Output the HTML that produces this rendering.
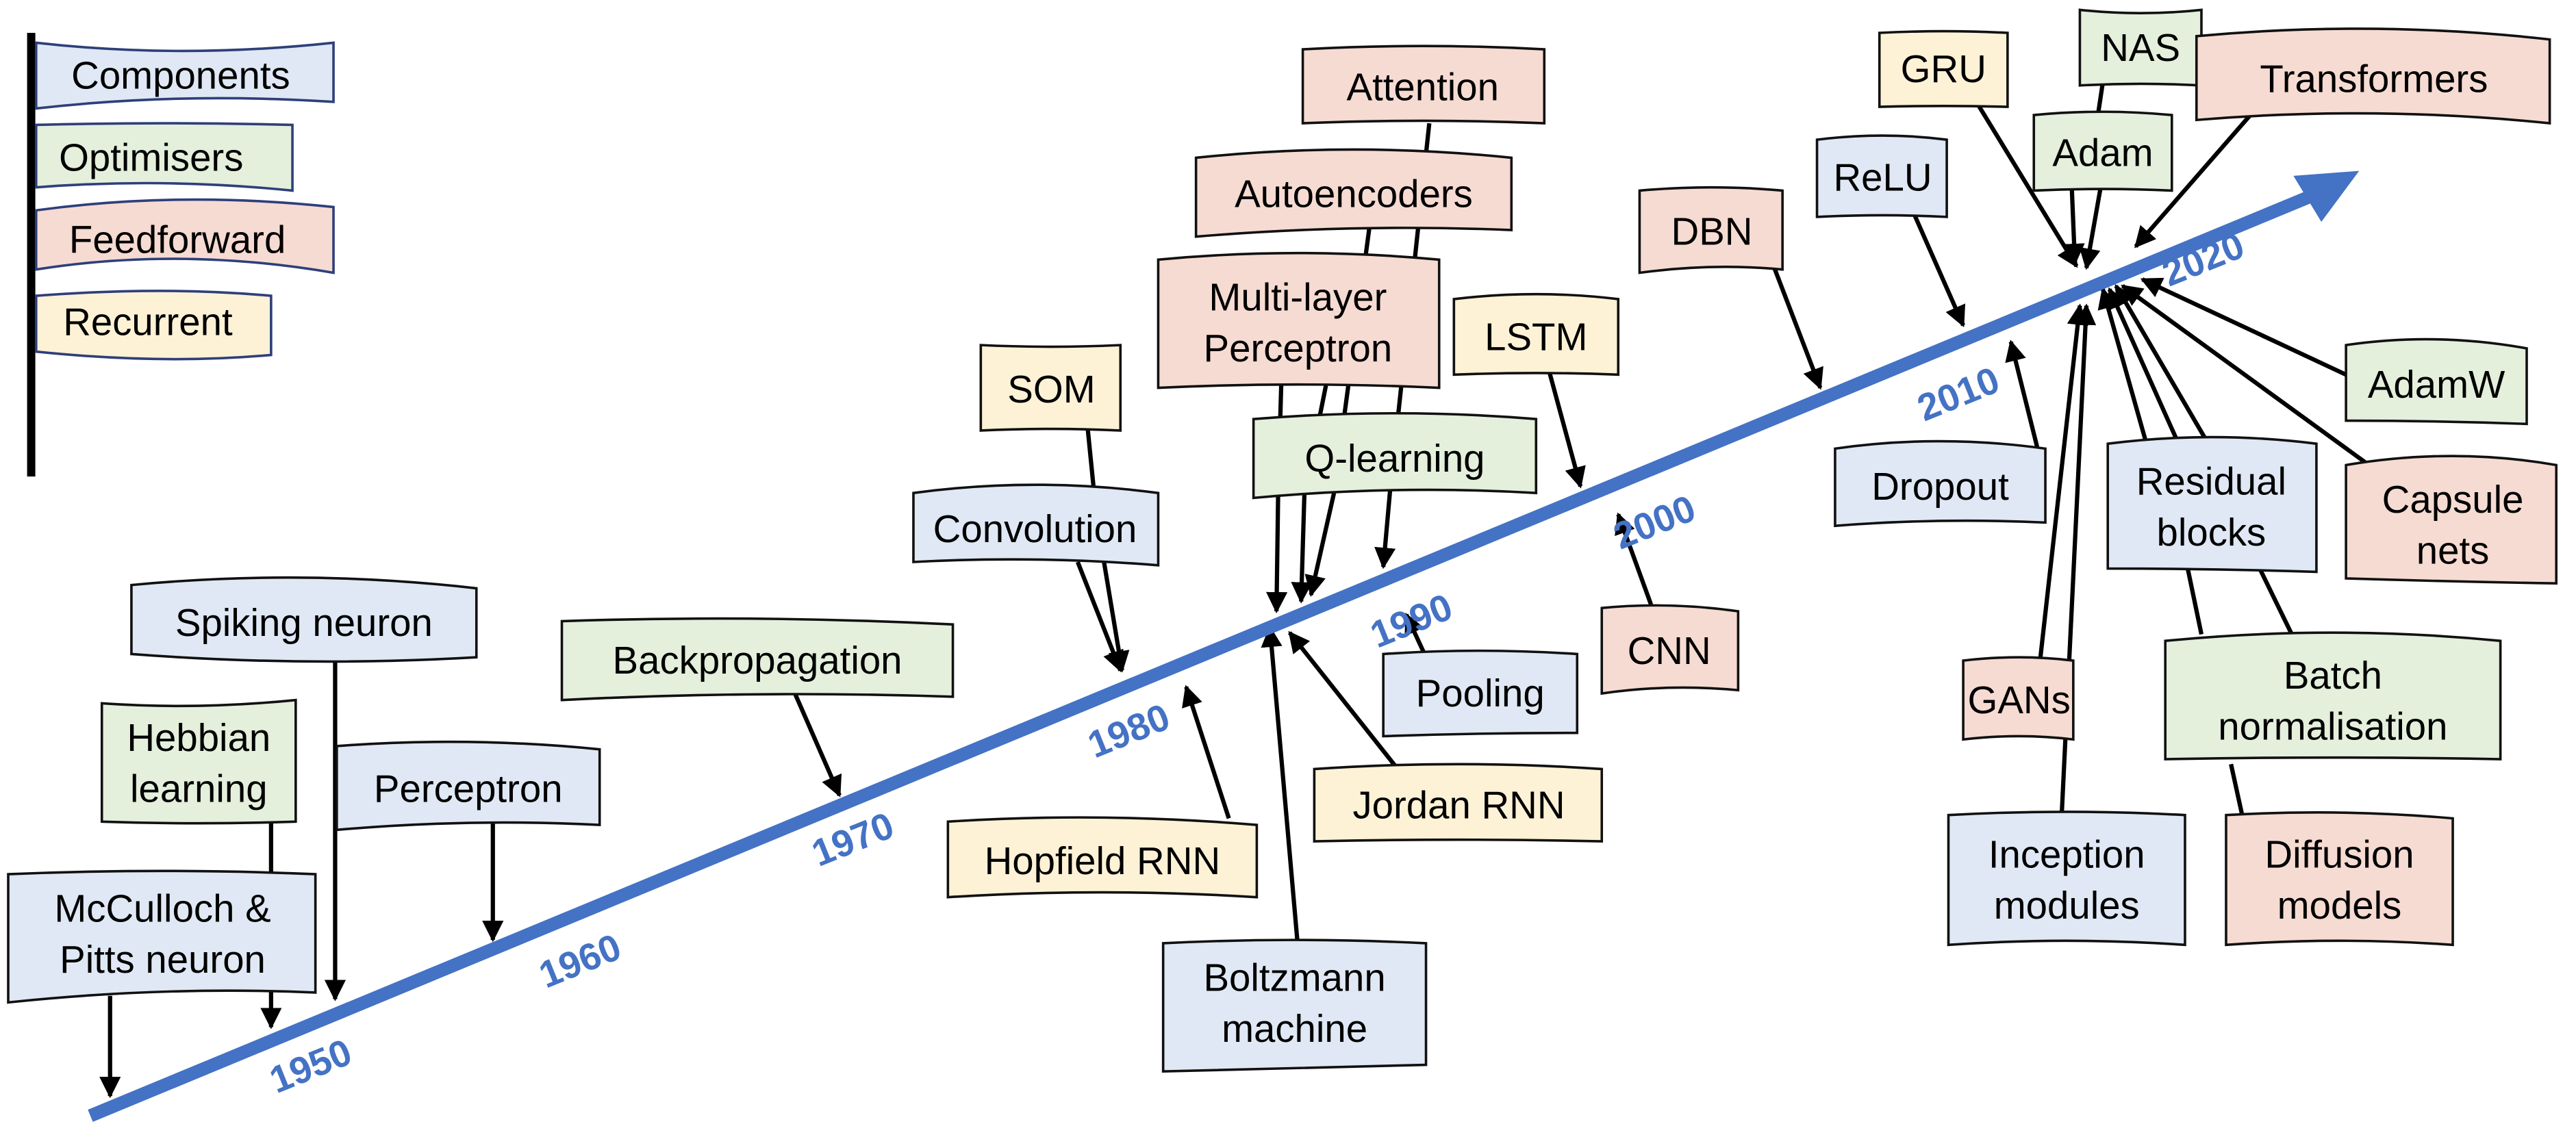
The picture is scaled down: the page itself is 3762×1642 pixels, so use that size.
<!DOCTYPE html>
<html><head><meta charset="utf-8"><style>
html,body{margin:0;padding:0;background:#fff;}
svg{display:block;}
text{font-family:"Liberation Sans Narrow","Liberation Sans",sans-serif;font-size:23.5px;fill:#000;text-anchor:middle;}
.yr text{font-family:"Liberation Sans",sans-serif;font-weight:bold;fill:#4472c4;font-size:23px;}
.b{fill:#dfe8f4}.g{fill:#e4efdc}.r{fill:#f6dbd2}.y{fill:#fdf2d6}
.box{stroke:#111;stroke-width:1.5;}
.lg{stroke:#2e3f7a;stroke-width:1.5;}
.ln{stroke:#000;stroke-width:2.6;fill:none;}
.ar{stroke:#000;stroke-width:2.6;fill:none;marker-end:url(#ah);}
</style></head><body>
<svg width="3762" height="1642" viewBox="0 0 1568 684" preserveAspectRatio="none" xmlns="http://www.w3.org/2000/svg">
<defs>
<marker id="ah" markerWidth="5" markerHeight="5" refX="4.5" refY="2.5" orient="auto" markerUnits="strokeWidth"><path d="M0,0 L5,2.5 L0,5 z" fill="#000"/></marker>
</defs>

<line class="ar" x1="67" y1="606" x2="67" y2="667"/>
<line class="ar" x1="165" y1="500" x2="165" y2="625"/>
<line class="ar" x1="204" y1="395" x2="204" y2="608"/>
<line class="ar" x1="300" y1="500" x2="300" y2="572"/>
<line class="ar" x1="483" y1="420" x2="511" y2="484"/>
<line class="ln" x1="662" y1="260" x2="666" y2="300"/>
<line class="ar" x1="656" y1="342" x2="682" y2="408"/>
<line class="ar" x1="672" y1="342" x2="683" y2="408"/>
<line class="ar" x1="748" y1="498" x2="722" y2="418"/>
<line class="ar" x1="790" y1="576" x2="773" y2="382"/>
<line class="ar" x1="850" y1="467" x2="785" y2="385"/>
<line class="ar" x1="868" y1="400" x2="856" y2="374"/>
<line class="ln" x1="780" y1="230" x2="778" y2="300"/>
<line class="ar" x1="778" y1="300" x2="777" y2="372"/>
<line class="ln" x1="808" y1="230" x2="794" y2="300"/>
<line class="ar" x1="794" y1="300" x2="792" y2="366"/>
<line class="ln" x1="834" y1="135" x2="812" y2="300"/>
<line class="ar" x1="812" y1="300" x2="798" y2="362"/>
<line class="ln" x1="870" y1="75" x2="846" y2="300"/>
<line class="ar" x1="846" y1="300" x2="842" y2="345"/>
<line class="ar" x1="943" y1="226" x2="962" y2="296"/>
<line class="ar" x1="1005" y1="368" x2="985" y2="313"/>
<line class="ar" x1="1080" y1="163" x2="1108" y2="236"/>
<line class="ar" x1="1165" y1="130" x2="1195" y2="198"/>
<line class="ar" x1="1240" y1="272" x2="1224" y2="208"/>
<line class="ar" x1="1203" y1="62" x2="1264" y2="162"/>
<line class="ln" x1="1280" y1="50" x2="1277" y2="70"/>
<line class="ar" x1="1261" y1="112" x2="1263" y2="160"/>
<line class="ar" x1="1279" y1="112" x2="1270" y2="163"/>
<line class="ar" x1="1375" y1="64" x2="1300" y2="150"/>
<line class="ar" x1="1428" y1="228" x2="1304" y2="170"/>
<line class="ar" x1="1442" y1="283" x2="1292" y2="174"/>
<line class="ln" x1="1340" y1="386" x2="1320" y2="290"/>
<line class="ln" x1="1395" y1="386" x2="1375" y2="345"/>
<line class="ar" x1="1315" y1="300" x2="1280" y2="176"/>
<line class="ar" x1="1335" y1="290" x2="1284" y2="176"/>
<line class="ar" x1="1350" y1="280" x2="1288" y2="174"/>
<line class="ar" x1="1242" y1="400" x2="1266" y2="186"/>
<line class="ar" x1="1255" y1="495" x2="1270" y2="186"/>
<line class="ln" x1="1365" y1="497" x2="1358" y2="465"/>

<line x1="55" y1="679" x2="1410" y2="118" stroke="#4472c4" stroke-width="8"/>
<polygon points="1436,104 1396,107 1413,135" fill="#4472c4"/>
<g class="yr">
<text x="192" y="656" transform="rotate(-22 192 656)">1950</text>
<text x="356" y="592" transform="rotate(-22 356 592)">1960</text>
<text x="522" y="518" transform="rotate(-22 522 518)">1970</text>
<text x="690" y="452" transform="rotate(-22 690 452)">1980</text>
<text x="862" y="385" transform="rotate(-22 862 385)">1990</text>
<text x="1010" y="325" transform="rotate(-22 1010 325)">2000</text>
<text x="1195" y="247" transform="rotate(-22 1195 247)">2010</text>
<text x="1344" y="165" transform="rotate(-22 1344 165)">2020</text>
</g>

<line x1="19" y1="20" x2="19" y2="290" stroke="#000" stroke-width="5"/>
<path class="b lg" d="M22,26 Q110,36 203,26 L203,62 Q110,56 22,66 Z"/>
<text x="110" y="54">Components</text>
<path class="g lg" d="M22,76 Q100,74 178,76 L178,116 Q100,108 22,114 Z"/>
<text x="92" y="104">Optimisers</text>
<path class="r lg" d="M22,128 Q110,116 203,126 L203,166 Q110,150 22,164 Z"/>
<text x="108" y="154">Feedforward</text>
<path class="y lg" d="M22,180 Q100,174 165,180 L165,216 Q100,222 22,214 Z"/>
<text x="90" y="204">Recurrent</text>

<g class="box">
<path class="b" d="M80,356 Q185,346 290,358 L290,400 Q185,406 80,398 Z"/>
<path class="g" d="M62,428 Q120,432 180,426 L180,500 Q120,502 62,500 Z"/>
<path class="b" d="M205,454 Q285,448 365,456 L365,502 Q285,498 205,505 Z"/>
<path class="b" d="M5,532 Q100,528 192,532 L192,604 Q100,600 5,610 Z"/>
<path class="g" d="M342,378 Q460,374 580,380 L580,424 Q460,420 342,426 Z"/>
<path class="y" d="M597,210 Q640,212 682,210 L682,262 Q640,260 597,262 Z"/>
<path class="b" d="M556,300 Q630,290 705,300 L705,344 Q630,338 556,342 Z"/>
<path class="y" d="M577,500 Q670,494 765,502 L765,546 Q670,540 577,546 Z"/>
<path class="b" d="M708,574 Q788,570 868,574 L868,648 Q788,650 708,652 Z"/>
<path class="r" d="M793,30 Q866,26 940,30 L940,75 Q866,72 793,75 Z"/>
<path class="r" d="M728,96 Q824,86 920,96 L920,140 Q824,136 728,144 Z"/>
<path class="r" d="M705,158 Q790,150 876,158 L876,236 Q790,232 705,236 Z"/>
<path class="g" d="M763,255 Q850,248 935,255 L935,300 Q850,295 763,303 Z"/>
<path class="y" d="M800,468 Q888,462 975,468 L975,512 Q888,510 800,512 Z"/>
<path class="b" d="M842,398 Q900,394 960,398 L960,446 Q900,446 842,448 Z"/>
<path class="y" d="M885,182 Q935,176 985,182 L985,228 Q935,226 885,228 Z"/>
<path class="r" d="M975,370 Q1016,366 1058,372 L1058,420 Q1016,416 975,422 Z"/>
<path class="r" d="M998,116 Q1042,112 1085,116 L1085,164 Q1042,160 998,166 Z"/>
<path class="b" d="M1106,85 Q1146,80 1185,85 L1185,132 Q1146,130 1106,132 Z"/>
<path class="b" d="M1117,273 Q1180,264 1245,273 L1245,318 Q1180,315 1117,320 Z"/>
<path class="y" d="M1144,20 Q1183,18 1222,20 L1222,65 Q1183,64 1144,65 Z"/>
<path class="g" d="M1266,6 Q1303,10 1340,6 L1340,52 Q1303,50 1266,52 Z"/>
<path class="g" d="M1238,70 Q1280,66 1322,70 L1322,116 Q1280,114 1238,116 Z"/>
<path class="r" d="M1337,22 Q1445,12 1552,24 L1552,75 Q1445,64 1337,73 Z"/>
<path class="g" d="M1428,210 Q1483,202 1538,212 L1538,258 Q1483,256 1428,256 Z"/>
<path class="r" d="M1428,283 Q1493,272 1556,283 L1556,355 Q1493,354 1428,352 Z"/>
<path class="b" d="M1283,270 Q1346,262 1410,270 L1410,348 Q1346,346 1283,346 Z"/>
<path class="g" d="M1318,390 Q1420,380 1522,390 L1522,462 Q1420,460 1318,462 Z"/>
<path class="r" d="M1195,402 Q1229,398 1262,402 L1262,450 Q1229,446 1195,450 Z"/>
<path class="b" d="M1186,496 Q1258,492 1330,496 L1330,575 Q1258,570 1186,575 Z"/>
<path class="r" d="M1355,496 Q1424,492 1493,498 L1493,575 Q1424,570 1355,575 Z"/>
</g>

<text x="185" y="387">Spiking neuron</text>
<text x="121" y="457">Hebbian</text><text x="121" y="488">learning</text>
<text x="285" y="488">Perceptron</text>
<text x="99" y="561">McCulloch &amp;</text><text x="99" y="592">Pitts neuron</text>
<text x="461" y="410">Backpropagation</text>
<text x="640" y="245">SOM</text>
<text x="630" y="330">Convolution</text>
<text x="671" y="532">Hopfield RNN</text>
<text x="788" y="603">Boltzmann</text><text x="788" y="634">machine</text>
<text x="866" y="61">Attention</text>
<text x="824" y="126">Autoencoders</text>
<text x="790" y="189">Multi-layer</text><text x="790" y="220">Perceptron</text>
<text x="849" y="287">Q-learning</text>
<text x="888" y="498">Jordan RNN</text>
<text x="901" y="430">Pooling</text>
<text x="935" y="213">LSTM</text>
<text x="1016" y="404">CNN</text>
<text x="1042" y="149">DBN</text>
<text x="1146" y="116">ReLU</text>
<text x="1181" y="304">Dropout</text>
<text x="1183" y="50">GRU</text>
<text x="1303" y="37">NAS</text>
<text x="1280" y="101">Adam</text>
<text x="1445" y="56">Transformers</text>
<text x="1483" y="242">AdamW</text>
<text x="1493" y="312">Capsule</text><text x="1493" y="343">nets</text>
<text x="1346" y="301">Residual</text><text x="1346" y="332">blocks</text>
<text x="1420" y="419">Batch</text><text x="1420" y="450">normalisation</text>
<text x="1229" y="434">GANs</text>
<text x="1258" y="528">Inception</text><text x="1258" y="559">modules</text>
<text x="1424" y="528">Diffusion</text><text x="1424" y="559">models</text>
</svg>
</body></html>
